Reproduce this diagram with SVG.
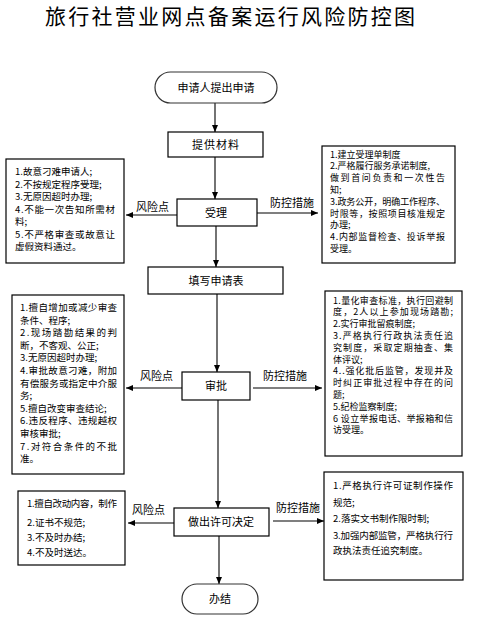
<svg xmlns="http://www.w3.org/2000/svg" width="485" height="630" viewBox="0 0 485 630">
<defs>
<marker id="ah" markerWidth="8" markerHeight="8" refX="7" refY="4" orient="auto" markerUnits="userSpaceOnUse">
<path d="M0,1 L7,4 L0,7 Z" fill="#000"/>
</marker>
<style>
.box{fill:#fff;stroke:#000;stroke-width:1.2}
.term{fill:#fff;stroke:#333;stroke-width:1.2}
.ln{stroke:#000;stroke-width:1.1;fill:none;marker-end:url(#ah)}
text{font-family:"Noto Sans CJK SC","Liberation Sans",sans-serif;fill:#000}
.nl{font-size:11px;text-anchor:middle}
.lb{font-size:11px}
.t{font-size:9.5px}
.s{font-size:9px}
.title{font-size:21px}
</style>
</defs>
<rect width="485" height="630" fill="#fff"/>
<text class="title" x="45" y="24" textLength="370" lengthAdjust="spacing">旅行社营业网点备案运行风险防控图</text>

<g id="connectors">
<line class="ln" x1="215" y1="103" x2="215" y2="132"/>
<line class="ln" x1="215" y1="157" x2="215" y2="199"/>
<line class="ln" x1="177" y1="215" x2="126" y2="215"/>
<line class="ln" x1="257" y1="213" x2="318" y2="213"/>
<line class="ln" x1="216" y1="226" x2="216" y2="267"/>
<line class="ln" x1="217" y1="294" x2="217" y2="372"/>
<line class="ln" x1="182" y1="388" x2="126" y2="388"/>
<line class="ln" x1="253" y1="388" x2="322" y2="388"/>
<line class="ln" x1="218" y1="400" x2="218" y2="508"/>
<line class="ln" x1="174" y1="523" x2="128" y2="523"/>
<line class="ln" x1="273" y1="521" x2="324" y2="521"/>
<line class="ln" x1="219" y1="536" x2="219" y2="584"/>
<text class="lb" x="136" y="211">风险点</text>
<text class="lb" x="270" y="207">防控措施</text>
<text class="lb" x="140" y="380">风险点</text>
<text class="lb" x="263" y="380">防控措施</text>
<text class="lb" x="132" y="514">风险点</text>
<text class="lb" x="276" y="512">防控措施</text>
</g>

<g id="start">
<rect class="term" x="155" y="72" width="122" height="31" rx="15.5"/>
<text class="nl" x="216" y="92">申请人提出申请</text>
</g>
<g id="materials">
<rect class="box" x="168" y="132" width="95" height="25"/>
<text class="nl" x="216" y="148.5" letter-spacing="1">提供材料</text>
</g>
<g id="accept">
<rect class="box" x="177" y="199" width="80" height="27"/>
<text class="nl" x="216" y="216.5">受理</text>
</g>
<g id="form">
<rect class="box" x="148" y="267" width="135" height="27"/>
<text class="nl" x="216" y="284.5">填写申请表</text>
</g>
<g id="approve">
<rect class="box" x="182" y="372" width="68" height="28"/>
<text class="nl" x="216" y="390">审批</text>
</g>
<g id="decision">
<rect class="box" x="174" y="508" width="95" height="28"/>
<text class="nl" x="221" y="526">做出许可决定</text>
</g>
<g id="end">
<rect class="term" x="182" y="584" width="76" height="30" rx="15"/>
<text class="nl" x="220" y="603">办结</text>
</g>

<g id="risk1">
<rect class="box" x="6" y="159" width="118" height="104"/>
<text class="t">
<tspan x="15" y="175">1.故意刁难申请人;</tspan>
<tspan x="15" y="187.5">2.不按规定程序受理;</tspan>
<tspan x="15" y="200">3.无原因超时办理;</tspan>
<tspan x="15" y="212.5" textLength="100" lengthAdjust="spacing">4.不能一次告知所需材</tspan>
<tspan x="15" y="225">料;</tspan>
<tspan x="15" y="237.5" textLength="100" lengthAdjust="spacing">5.不严格审查或故意让</tspan>
<tspan x="15" y="250">虚假资料通过。</tspan>
</text>
</g>
<g id="measure1">
<rect class="box" x="322" y="146" width="133" height="117"/>
<text class="s">
<tspan x="330" y="157.5">1.建立受理单制度</tspan>
<tspan x="330" y="169.3">2.严格履行服务承诺制度,</tspan>
<tspan x="330" y="181.1" textLength="115" lengthAdjust="spacing">做到首问负责和一次性告</tspan>
<tspan x="330" y="192.9">知;</tspan>
<tspan x="330" y="204.7" textLength="115" lengthAdjust="spacing">3.政务公开，明确工作程序、</tspan>
<tspan x="330" y="216.5" textLength="115" lengthAdjust="spacing">时限等，按照项目核准规定</tspan>
<tspan x="330" y="228.3">办理;</tspan>
<tspan x="330" y="240.1" textLength="115" lengthAdjust="spacing">4.内部监督检查、投诉举报</tspan>
<tspan x="330" y="251.9">受理。</tspan>
</text>
</g>
<g id="risk2">
<rect class="box" x="12" y="295" width="112" height="179"/>
<text class="t">
<tspan x="20" y="311" textLength="97" lengthAdjust="spacing">1.擅自增加或减少审查</tspan>
<tspan x="20" y="323.6">条件、程序;</tspan>
<tspan x="20" y="336.2" textLength="97" lengthAdjust="spacing">2.现场踏勘结果的判</tspan>
<tspan x="20" y="348.8">断，不客观、公正;</tspan>
<tspan x="20" y="361.4">3.无原因超时办理;</tspan>
<tspan x="20" y="374" textLength="97" lengthAdjust="spacing">4.审批故意刁难，附加</tspan>
<tspan x="20" y="386.6" textLength="97" lengthAdjust="spacing">有偿服务或指定中介服</tspan>
<tspan x="20" y="399.2">务;</tspan>
<tspan x="20" y="411.8">5.擅自改变审查结论;</tspan>
<tspan x="20" y="424.4" textLength="97" lengthAdjust="spacing">6.违反程序、违规越权</tspan>
<tspan x="20" y="437">审核审批;</tspan>
<tspan x="20" y="449.6" textLength="97" lengthAdjust="spacing">7.对符合条件的不批</tspan>
<tspan x="20" y="462.2">准。</tspan>
</text>
</g>
<g id="measure2">
<rect class="box" x="325" y="291" width="137" height="165"/>
<text class="s">
<tspan x="333" y="303.5" textLength="120" lengthAdjust="spacing">1.量化审查标准，执行回避制</tspan>
<tspan x="333" y="315.3" textLength="120" lengthAdjust="spacing">度，2人以上参加现场踏勘;</tspan>
<tspan x="333" y="327.1">2.实行审批留痕制度;</tspan>
<tspan x="333" y="338.9" textLength="120" lengthAdjust="spacing">3.严格执行行政执法责任追</tspan>
<tspan x="333" y="350.7" textLength="120" lengthAdjust="spacing">究制度，采取定期抽查、集</tspan>
<tspan x="333" y="362.5">体评议;</tspan>
<tspan x="333" y="374.3" textLength="120" lengthAdjust="spacing">4..强化批后监管，发现并及</tspan>
<tspan x="333" y="386.1" textLength="120" lengthAdjust="spacing">时纠正审批过程中存在的问</tspan>
<tspan x="333" y="397.9">题;</tspan>
<tspan x="333" y="409.7">5.纪检监察制度;</tspan>
<tspan x="333" y="421.5" textLength="120" lengthAdjust="spacing">6 设立举报电话、举报箱和信</tspan>
<tspan x="333" y="433.3">访受理。</tspan>
</text>
</g>
<g id="risk3">
<rect class="box" x="18" y="491" width="107" height="74"/>
<text class="t">
<tspan x="27" y="507" textLength="90" lengthAdjust="spacing">1.擅自改动内容，制作</tspan>
<tspan x="27" y="526">2.证书不规范;</tspan>
<tspan x="27" y="541">3.不及时办结;</tspan>
<tspan x="27" y="556">4.不及时送达。</tspan>
</text>
</g>
<g id="measure3">
<rect class="box" x="324" y="472" width="139" height="108"/>
<text class="t">
<tspan x="333" y="489" textLength="120" lengthAdjust="spacing">1.严格执行许可证制作操作</tspan>
<tspan x="333" y="506">规范;</tspan>
<tspan x="333" y="522">2.落实文书制作限时制;</tspan>
<tspan x="333" y="539" textLength="120" lengthAdjust="spacing">3.加强内部监管，严格执行行</tspan>
<tspan x="333" y="554">政执法责任追究制度。</tspan>
</text>
</g>
</svg>
